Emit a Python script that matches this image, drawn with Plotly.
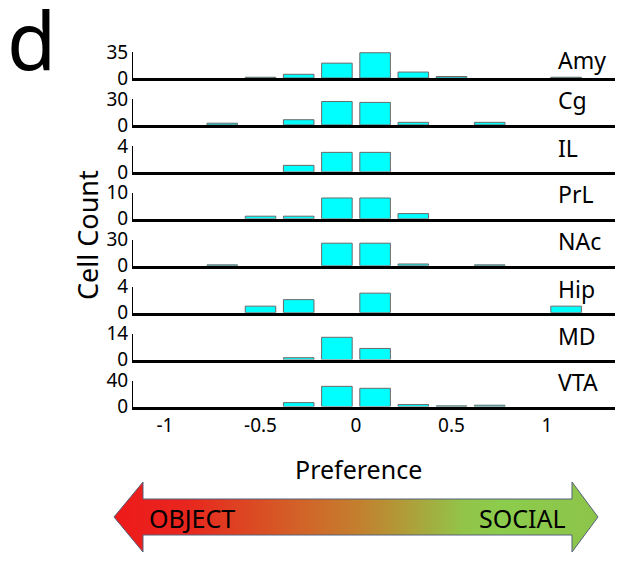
import plotly.graph_objects as go

# ---------------- data ----------------
bin_centers = [-0.9, -0.7, -0.5, -0.3, -0.1, 0.1, 0.3, 0.5, 0.7, 0.9, 1.1]
regions = ["Amy", "Cg", "IL", "PrL", "NAc", "Hip", "MD", "VTA"]
amy = [0, 0, 1, 5, 20, 34, 8, 2, 0, 0, 1]
cg = [0, 2, 0, 6, 27, 26, 3, 0, 3, 0, 0]
il = [0, 0, 0, 1, 3, 3, 0, 0, 0, 0, 0]
prl = [0, 0, 1, 1, 8, 8, 2, 0, 0, 0, 0]
nac = [0, 1, 0, 0, 26, 26, 2, 0, 1, 0, 0]
hip = [0, 0, 1, 2, 0, 3, 0, 0, 0, 0, 1]
md = [0, 0, 0, 1, 12, 6, 0, 0, 0, 0, 0]
vta = [0, 0, 0, 6, 31, 28, 3, 1, 2, 0, 0]
y_max = [35, 30, 4, 10, 30, 4, 14, 40]
x_tick_vals = [-1, -0.5, 0, 0.5, 1]
x_tick_text = ["-1", "-0.5", "0", "0.5", "1"]

counts = [amy, cg, il, prl, nac, hip, md, vta]

# ---------------- figure ----------------
W, H = 623, 563
OFF = 8  # page offset of the plot div (body margin)
FONT = "Noto Sans"
label_rise = [16, 23, 22, 23, 23, 22, 22, 23]  # label height above each baseline (px)


def px_x(p):
    return (p - OFF) / W


def px_y(p):
    return 1 - (p - OFF) / H


fig = go.Figure()
layout = dict(
    width=W, height=H,
    margin=dict(l=0, r=0, t=0, b=0, autoexpand=False),
    paper_bgcolor="white", plot_bgcolor="rgba(0,0,0,0)",
    showlegend=False,
    font=dict(family=FONT, color="black"),
)

x_dom = [px_x(133), px_x(615)]
x_rng = [-1.1675, 1.356]
annotations = []

for i, (name, vals, ym) in enumerate(zip(regions, counts, y_max)):
    k = i + 1
    sfx = "" if k == 1 else str(k)
    base_px = 78 + i * 46.93
    top_px = base_px - 26
    y_dom = [px_y(base_px), px_y(top_px)]
    fig.add_trace(go.Bar(
        x=bin_centers, y=[v if v else None for v in vals], width=0.16,
        marker=dict(color="#00ffff", line=dict(color="#6a6a6a", width=1)),
        xaxis="x" + sfx, yaxis="y" + sfx, hoverinfo="skip",
    ))
    last = (k == len(regions))
    layout["xaxis" + sfx] = dict(
        domain=x_dom, range=x_rng, anchor="y" + sfx,
        showline=True, linecolor="black", linewidth=2.5,
        showgrid=False, zeroline=False, ticks="",
        showticklabels=last, tickvals=x_tick_vals, ticktext=x_tick_text,
        tickfont=dict(size=19, family=FONT), fixedrange=True,
    )
    layout["yaxis" + sfx] = dict(
        domain=y_dom, range=[0, ym], anchor="x" + sfx,
        showline=True, linecolor="black", linewidth=1,
        showgrid=False, zeroline=False,
        ticks="inside", ticklen=5, tickcolor="black", tickwidth=1,
        tickvals=[0, ym], ticktext=[str(0), str(ym)],
        tickfont=dict(size=19, family=FONT), fixedrange=True,
    )
    annotations.append(dict(
        text=name, xref="paper", yref="paper",
        x=px_x(556), y=px_y(base_px - label_rise[i] - 2), xanchor="left", yanchor="middle",
        showarrow=False, font=dict(size=23, family=FONT),
    ))

# ---------------- preference arrow (decoration) ----------------
arrow_x = [114, 143, 143, 572, 572, 598, 572, 572, 143, 143, 114]
arrow_y = [517, 482, 499, 499, 482, 517, 552, 535, 535, 552, 517]
fig.add_trace(go.Scatter(
    x=[p - OFF for p in arrow_x], y=[p - OFF for p in arrow_y],
    mode="lines", fill="toself",
    line=dict(color="#55607a", width=1),
    fillgradient=dict(type="horizontal", colorscale=[
        [0.0, "#ee1a1a"], [0.15, "#e8261e"], [0.35, "#d65a26"],
        [0.5, "#c47e2e"], [0.6, "#b09c38"], [0.72, "#92c448"],
        [0.8, "#8ccc4c"], [1.0, "#8cc44a"],
    ]),
    xaxis="x9", yaxis="y9", hoverinfo="skip",
))
layout["xaxis9"] = dict(domain=[0, 1], range=[0, W], visible=False, fixedrange=True, anchor="y9")
layout["yaxis9"] = dict(domain=[0, 1], range=[H, 0], visible=False, fixedrange=True, anchor="x9")

annotations += [
    dict(text="OBJECT", xref="paper", yref="paper", x=px_x(192), y=px_y(518),
         xanchor="center", yanchor="middle", showarrow=False,
         font=dict(size=25, family=FONT, color="black")),
    dict(text="SOCIAL", xref="paper", yref="paper", x=px_x(522), y=px_y(518),
         xanchor="center", yanchor="middle", showarrow=False,
         font=dict(size=25, family=FONT, color="black")),
    dict(text="Preference", xref="paper", yref="paper", x=px_x(358), y=px_y(469),
         xanchor="center", yanchor="middle", showarrow=False,
         font=dict(size=25, family=FONT)),
    dict(text="Cell Count", xref="paper", yref="paper", x=px_x(88), y=px_y(235),
         xanchor="center", yanchor="middle", showarrow=False, textangle=-90,
         font=dict(size=27, family=FONT)),
    dict(text="d", xref="paper", yref="paper", x=px_x(31), y=px_y(38),
         xanchor="center", yanchor="middle", showarrow=False,
         font=dict(size=80, family=FONT)),
]
layout["annotations"] = annotations
fig.update_layout(**layout)
fig.write_html("out.html")
